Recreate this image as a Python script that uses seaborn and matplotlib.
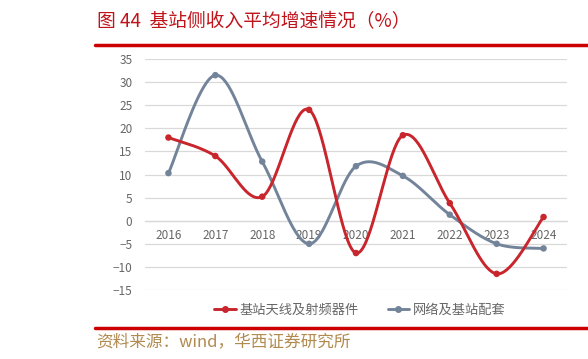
import numpy as np
import pandas as pd
import seaborn as sns
import matplotlib.pyplot as plt
from matplotlib.lines import Line2D

# data
years = ['2016', '2017', '2018', '2019', '2020', '2021', '2022', '2023', '2024']
antenna_rf = [18.0, 14.0, 5.2, 24.0, -7.0, 18.5, 3.8, -11.5, 0.8]
network_support = [10.3, 31.5, 12.8, -5.0, 11.8, 9.7, 1.3, -5.0, -6.0]
series_names = ['基站天线及射频器件', '网络及基站配套']
series_colors = ['#C8252C', '#73849A']

title = '图 44  基站侧收入平均增速情况（%）'
source = '资料来源：wind，华西证券研究所'


def smooth(y, n=40):
    # Catmull-Rom style bezier, similar to a spreadsheet "smoothed line"
    y = np.asarray(y, dtype=float)
    x = np.arange(len(y), dtype=float)
    px = np.concatenate([[x[0]], x, [x[-1]]])
    py = np.concatenate([[y[0]], y, [y[-1]]])
    xs, ys = [], []
    t = np.linspace(0, 1, n)
    for i in range(1, len(px) - 2):
        p0 = np.array([px[i], py[i]])
        p3 = np.array([px[i + 1], py[i + 1]])
        p1 = p0 + (np.array([px[i + 1], py[i + 1]]) - np.array([px[i - 1], py[i - 1]])) / 6
        p2 = p3 - (np.array([px[i + 2], py[i + 2]]) - np.array([px[i], py[i]])) / 6
        b = ((1 - t) ** 3)[:, None] * p0 + (3 * (1 - t) ** 2 * t)[:, None] * p1 \
            + (3 * (1 - t) * t ** 2)[:, None] * p2 + (t ** 3)[:, None] * p3
        xs.append(b[:, 0])
        ys.append(b[:, 1])
    return np.concatenate(xs), np.concatenate(ys)


sns.set_style('white')
plt.rcParams['font.family'] = ['Noto Sans CJK SC', 'DejaVu Sans']
plt.rcParams['axes.unicode_minus'] = True

fig = plt.figure(figsize=(5.88, 3.59), dpi=100)
ax = fig.add_axes([145 / 588, 1 - 290 / 359, (567 - 145) / 588, (290 - 59) / 359])

rows = []
for name, vals in zip(series_names, [antenna_rf, network_support]):
    sx, sy = smooth(vals)
    rows.append(pd.DataFrame({'x': sx, 'y': sy, 'series': name}))
curves = pd.concat(rows, ignore_index=True)
points = pd.DataFrame({
    'x': list(range(len(years))) * 2,
    'y': antenna_rf + network_support,
    'series': [series_names[0]] * len(years) + [series_names[1]] * len(years),
})

palette = dict(zip(series_names, series_colors))
# draw gray first so the red line sits on top
for name in series_names[::-1]:
    sns.lineplot(data=curves[curves.series == name], x='x', y='y', color=palette[name],
                 linewidth=2.1, sort=False, estimator=None, ax=ax, legend=False, zorder=3)
    sns.scatterplot(data=points[points.series == name], x='x', y='y', color=palette[name],
                    s=22, edgecolor='none', ax=ax, legend=False, zorder=4)

ax.set_xlim(-0.5, len(years) - 0.5)
ax.set_ylim(-15, 35)
ax.set_yticks(np.arange(-15, 36, 5))
ax.set_xticks(range(len(years)))
ax.set_xticklabels(years)
ax.yaxis.grid(True, color='#D9D9D9', linewidth=0.9)
ax.set_axisbelow(True)
for s in ['top', 'right', 'left']:
    ax.spines[s].set_visible(False)
ax.spines['bottom'].set_position(('data', 0))
ax.spines['bottom'].set_color('#D9D9D9')
ax.spines['bottom'].set_linewidth(0.9)
ax.tick_params(axis='both', length=0, labelsize=8.5, labelcolor='#666666')
ax.tick_params(axis='x', pad=6)
ax.tick_params(axis='y', pad=9)
ax.set_xlabel('')
ax.set_ylabel('')

handles = [Line2D([0], [0], color=c, linewidth=2.1, marker='o', markersize=4) for c in series_colors]
fig.legend(handles, series_names, loc='center', bbox_to_anchor=(360 / 588, 1 - 310 / 359),
           ncol=2, frameon=False, fontsize=9.5, labelcolor='#666666', handlelength=1.6,
           handletextpad=0.3, columnspacing=2.2)

fig.text(97 / 588, 1 - 22 / 359, title, color='#C0141B', fontsize=13.5, va='center', ha='left')
fig.add_artist(Line2D([95 / 588, 1.0], [1 - 45 / 359] * 2, color='#CC0000', linewidth=2.5))
fig.add_artist(Line2D([95 / 588, 1.0], [1 - 328 / 359] * 2, color='#CC0000', linewidth=2.5))
fig.text(96 / 588, 1 - 342 / 359, source, color='#B08A4E', fontsize=12, va='center', ha='left')

fig.savefig('out.png', dpi=100)
